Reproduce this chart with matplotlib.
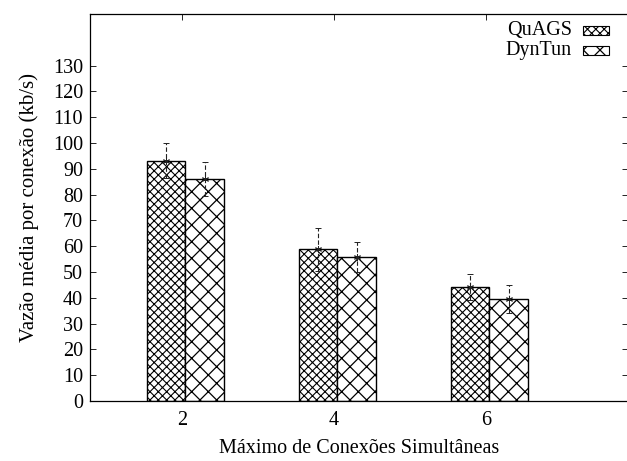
import numpy as np
import matplotlib
matplotlib.use("Agg")
import matplotlib.pyplot as plt
from matplotlib.patches import Rectangle

# data
conexoes = [2, 4, 6]
quags = [93.2, 58.8, 44.2]
quags_err = [6.9, 8.4, 5.2]
dyntun = [86.1, 55.8, 39.6]
dyntun_err = [6.5, 5.8, 5.3]
series_names = ["QuAGS", "DynTun"]
hatches = ["xxxx", "xx"]
hatch_lw = [0.8, 0.9]

plt.rcParams["font.family"] = "Liberation Serif"
plt.rcParams["hatch.color"] = "black"

fig = plt.figure(figsize=(6.27, 4.61), dpi=100)
ax = fig.add_axes([90 / 627, 60 / 461, 538 / 627, 387 / 461])

x = np.array(conexoes, dtype=float) + 0.045
w = 0.51
for vals, errs, off, h, hl in zip([quags, dyntun], [quags_err, dyntun_err],
                                  [-w / 2, w / 2], hatches, hatch_lw):
    plt.rcParams["hatch.linewidth"] = hl
    ax.bar(x + off, vals, width=w, facecolor="white", edgecolor="black",
           linewidth=1.0, hatch=h, zorder=2)
    eb = ax.errorbar(x + off, vals, yerr=errs, fmt="none", ecolor="#222222",
                     elinewidth=0.8, capsize=2, capthick=0.7, zorder=3)
    eb[2][0].set_linestyle((0, (4, 2)))
    ax.plot(x + off, vals, linestyle="none", marker=(6, 2, 0),
            markersize=5, color="#222222", markeredgewidth=0.7, zorder=4)

ax.set_xlim(0.79, 7.87)
ax.set_ylim(0, 150)
ax.set_xticks(conexoes)
ax.set_yticks(np.arange(0, 131, 10))
ax.tick_params(direction="in", length=4.5, width=0.6, labelsize=14.5,
               top=True, right=True, pad=5)
ax.tick_params(axis="x", pad=7)
for s in ax.spines.values():
    s.set_linewidth(0.9)

ax.set_xlabel("Máximo de Conexões Simultâneas", fontsize=14.5, labelpad=7)
ax.set_ylabel("Vazão média por conexão (kb/s)", fontsize=15, labelpad=10)

# legend drawn gnuplot style: text right aligned, sample box on the right
for i, (name, h, hl) in enumerate(zip(series_names, hatches, hatch_lw)):
    plt.rcParams["hatch.linewidth"] = hl
    ypos = 0.958 - i * 0.052
    ax.text(0.896, ypos, name, transform=ax.transAxes, ha="right", va="center",
            fontsize=14.5)
    ax.add_patch(Rectangle((0.917, ypos - 0.011), 0.048, 0.022,
                           transform=ax.transAxes, facecolor="white",
                           edgecolor="black", linewidth=0.8, hatch=h))

fig.savefig("out.png", dpi=100)
